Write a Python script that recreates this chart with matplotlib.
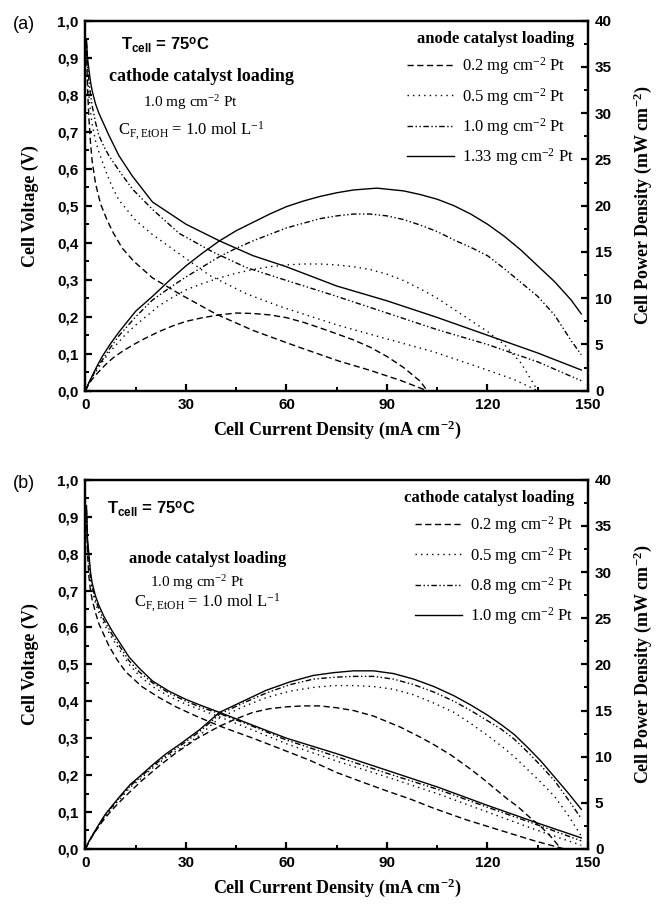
import matplotlib
matplotlib.use("Agg")
import matplotlib.pyplot as plt
from matplotlib.ticker import MultipleLocator, FuncFormatter

plt.rcParams['mathtext.fontset'] = 'custom'
plt.rcParams['mathtext.rm'] = 'Liberation Serif'
plt.rcParams['mathtext.it'] = 'Liberation Serif:italic'
plt.rcParams['mathtext.bf'] = 'Liberation Serif:bold'
plt.rcParams['mathtext.sf'] = 'Liberation Sans:bold'

# ---- panel (a): anode catalyst loading (cathode 1.0 mg cm-2 Pt) ----
a_labels = ['0.2 mg cm$^{-2}$ Pt', '0.5 mg cm$^{-2}$ Pt', '1.0 mg cm$^{-2}$ Pt', '1.33 mg cm$^{-2}$ Pt']

# voltage curves: current density (mA cm-2) and cell voltage (V)
a_v_i = [
    [0.3, 0.6, 1, 1.5, 2, 3, 4.5, 6.5, 8.4, 11, 14.4, 20, 28, 39, 50, 63, 75.7, 85, 94, 102],
    [0.3, 0.6, 1, 1.5, 2, 3, 4, 6, 8, 10, 15, 20, 28, 37, 48, 58, 75, 90, 104, 118, 128, 135],
    [0.3, 0.6, 1, 1.5, 2, 3, 4, 5.5, 7, 10, 14, 20, 28, 38, 48, 60, 75, 90, 105, 120, 135, 148],
    [0.3, 0.6, 1, 1.5, 2, 3, 4, 5.5, 7, 10, 14, 20, 30, 40, 50, 60, 75, 90, 105, 120, 135, 148],
]
a_v = [
    [0.92, 0.82, 0.74, 0.67, 0.62, 0.56, 0.505, 0.46, 0.425, 0.385, 0.35, 0.305, 0.262, 0.207, 0.163, 0.12, 0.08, 0.055, 0.028, 0.0],
    [0.93, 0.86, 0.80, 0.755, 0.72, 0.675, 0.645, 0.595, 0.55, 0.515, 0.46, 0.422, 0.37, 0.312, 0.262, 0.228, 0.178, 0.14, 0.105, 0.062, 0.03, 0.0],
    [0.94, 0.88, 0.84, 0.80, 0.77, 0.725, 0.69, 0.66, 0.635, 0.595, 0.545, 0.49, 0.425, 0.375, 0.333, 0.298, 0.255, 0.21, 0.165, 0.125, 0.078, 0.027],
    [0.95, 0.90, 0.87, 0.835, 0.81, 0.775, 0.75, 0.72, 0.69, 0.635, 0.58, 0.51, 0.45, 0.405, 0.365, 0.335, 0.283, 0.243, 0.198, 0.15, 0.102, 0.056],
]
# power density curves: current density (mA cm-2) and power (mW cm-2)
a_p_i = [
    [0, 1, 2, 3, 4.5, 6.5, 8.4, 11, 14.4, 18, 22, 26, 30, 35, 40, 45, 50, 55, 60, 65, 70, 75, 80, 85, 90, 95, 100, 102],
    [0, 1, 2, 3.5, 5, 7, 9, 12, 15, 18, 22, 26, 30, 35, 40, 45, 50, 55, 60, 65, 70, 75, 80, 85, 90, 95, 100, 105, 110, 115, 120, 125, 130, 135],
    [0, 1, 2, 3.5, 5, 7.5, 10, 15, 20, 25, 30, 35, 40, 45, 50, 55, 60, 65, 70, 75, 80, 85, 90, 95, 100, 105, 110, 115, 120, 125, 130, 135, 140, 145, 148],
    [0, 1, 2, 3.5, 5, 7.5, 10, 15, 20, 25, 30, 35, 40, 45, 50, 55, 60, 65, 70, 75, 80, 87, 95, 100, 105, 110, 115, 120, 125, 130, 135, 140, 145, 148],
]
a_p = [
    [0, 0.74, 1.24, 1.68, 2.27, 3.0, 3.6, 4.25, 5.0, 5.7, 6.4, 7.0, 7.5, 7.9, 8.2, 8.4, 8.35, 8.2, 7.9, 7.4, 6.8, 6.15, 5.5, 4.7, 3.7, 2.5, 1.0, 0],
    [0, 0.8, 1.45, 2.3, 3.1, 4.1, 4.9, 6.1, 7.1, 8.0, 9.2, 10.1, 10.9, 11.6, 12.2, 12.7, 13.1, 13.4, 13.6, 13.7, 13.7, 13.6, 13.4, 13.1, 12.6, 11.9, 11.0, 10.0, 8.8, 7.6, 6.4, 5.0, 3.0, 0],
    [0, 0.84, 1.54, 2.5, 3.3, 4.7, 5.95, 8.0, 9.8, 11.1, 12.3, 13.4, 14.5, 15.4, 16.2, 16.9, 17.6, 18.1, 18.6, 18.9, 19.1, 19.1, 18.9, 18.5, 17.9, 17.2, 16.3, 15.5, 14.6, 13.2, 11.7, 10.2, 8.2, 5.4, 3.9],
    [0, 0.87, 1.6, 2.7, 3.7, 5.1, 6.35, 8.6, 10.2, 11.9, 13.5, 14.9, 16.2, 17.3, 18.2, 19.1, 19.9, 20.5, 21.0, 21.4, 21.7, 21.9, 21.6, 21.2, 20.7, 20.0, 19.1, 18.0, 16.7, 15.2, 13.5, 11.8, 9.8, 8.3],
]

# ---- panel (b): cathode catalyst loading (anode 1.0 mg cm-2 Pt) ----
b_labels = ['0.2 mg cm$^{-2}$ Pt', '0.5 mg cm$^{-2}$ Pt', '0.8 mg cm$^{-2}$ Pt', '1.0 mg cm$^{-2}$ Pt']

b_v_i = [
    [0.3, 0.6, 1, 1.5, 2, 3, 4, 5, 7, 9.4, 12, 16.8, 22, 27, 33, 40, 50, 58, 67, 75, 83, 90, 97, 104, 114, 124, 134, 143],
    [0.3, 0.6, 1, 1.5, 2, 3, 4, 5.5, 8, 10.5, 13, 16, 20, 25, 30, 35, 40, 50, 60, 75, 90, 105, 120, 135, 148],
    [0.3, 0.6, 1, 1.5, 2, 3, 4, 5.5, 8, 10.5, 13, 16, 20, 25, 30, 35, 40, 50, 60, 75, 90, 105, 120, 135, 148],
    [0.3, 0.6, 1, 1.5, 2, 3, 4, 5.5, 8, 10.5, 13, 16, 20, 25, 30, 35, 40, 50, 60, 75, 90, 105, 120, 135, 148],
]
b_v = [
    [0.90, 0.80, 0.74, 0.70, 0.675, 0.64, 0.61, 0.59, 0.55, 0.513, 0.48, 0.44, 0.41, 0.385, 0.36, 0.333, 0.30, 0.272, 0.24, 0.207, 0.18, 0.157, 0.135, 0.11, 0.078, 0.05, 0.022, 0.0],
    [0.91, 0.82, 0.78, 0.73, 0.70, 0.665, 0.64, 0.61, 0.57, 0.535, 0.50, 0.47, 0.44, 0.413, 0.392, 0.375, 0.358, 0.322, 0.285, 0.238, 0.195, 0.15, 0.10, 0.05, 0.01],
    [0.92, 0.83, 0.79, 0.74, 0.71, 0.675, 0.65, 0.62, 0.58, 0.545, 0.51, 0.48, 0.45, 0.422, 0.40, 0.382, 0.367, 0.332, 0.295, 0.25, 0.205, 0.162, 0.113, 0.065, 0.022],
    [0.93, 0.84, 0.80, 0.75, 0.72, 0.685, 0.66, 0.63, 0.59, 0.555, 0.52, 0.49, 0.455, 0.427, 0.405, 0.387, 0.37, 0.335, 0.30, 0.258, 0.213, 0.168, 0.118, 0.07, 0.03],
]
b_p_i = [
    [0, 1, 2, 3, 5, 7, 9.4, 12, 16.8, 22, 27, 33, 40, 45, 50, 55, 60, 65, 70, 75, 80, 86, 94, 100, 104, 109, 114, 118, 122, 126, 129, 133, 136, 139, 142],
    [0, 1, 2, 3, 4.5, 6, 8, 10.5, 13.4, 16, 20, 24, 28, 34, 40, 47, 54, 61, 68, 74, 80, 86, 92, 98, 104, 110, 115, 120, 124, 128, 132, 136, 140, 144, 148],
    [0, 1, 2, 3, 4.5, 6, 8, 10.5, 13.4, 16, 20, 24, 28, 34, 40, 47, 54, 61, 68, 74, 80, 86, 92, 98, 104, 110, 115, 120, 124, 128, 132, 136, 140, 144, 148],
    [0, 1, 2, 3, 4.5, 6, 8, 10.5, 13.4, 16, 20, 24, 28, 34, 40, 47, 54, 61, 68, 74, 80, 86, 92, 98, 104, 110, 115, 120, 124, 128, 132, 136, 140, 144, 148],
]
b_p = [
    [0, 0.74, 1.35, 1.92, 2.95, 3.85, 4.8, 5.75, 7.4, 9.0, 10.4, 11.9, 13.3, 14.1, 14.8, 15.2, 15.4, 15.5, 15.5, 15.3, 15.0, 14.4, 13.2, 12.1, 11.3, 10.2, 8.9, 7.8, 6.6, 5.4, 4.6, 3.3, 2.4, 1.3, 0],
    [0, 0.78, 1.4, 1.98, 2.85, 3.6, 4.5, 5.5, 6.7, 7.45, 8.75, 9.9, 10.8, 12.3, 14.2, 15.4, 16.4, 17.1, 17.5, 17.7, 17.7, 17.6, 17.3, 16.7, 15.8, 14.8, 13.6, 12.3, 11.2, 10.0, 8.6, 7.2, 5.7, 3.7, 1.4],
    [0, 0.79, 1.42, 2.0, 2.9, 3.7, 4.6, 5.7, 6.85, 7.65, 8.95, 10.1, 11.1, 12.7, 14.6, 15.8, 16.9, 17.8, 18.4, 18.6, 18.7, 18.7, 18.4, 17.8, 17.0, 16.0, 15.0, 13.9, 13.0, 11.9, 10.5, 9.0, 7.4, 5.4, 3.3],
    [0, 0.8, 1.44, 2.05, 2.95, 3.8, 4.7, 5.8, 7.0, 7.8, 9.1, 10.3, 11.3, 12.9, 14.8, 16.0, 17.2, 18.1, 18.8, 19.1, 19.3, 19.3, 19.0, 18.4, 17.6, 16.6, 15.6, 14.5, 13.5, 12.4, 11.0, 9.5, 7.8, 6.1, 4.3],
]

styles = [(0, (4.5, 2.5)), (0, (1, 3)), (0, (4, 1.8, 1, 1.8, 1, 1.8)), '-']

fig = plt.figure(figsize=(6.56, 9.07), dpi=100)

serif = 'Liberation Serif'
sans = 'Liberation Sans'
comma = FuncFormatter(lambda v, p: ('%.1f' % v).replace('.', ','))


def make_panel(rect, vi, vv, pi, pp, labels, title, tag, notes):
    ax = fig.add_axes(rect)
    ax2 = ax.twinx()
    for k in range(4):
        ax.plot(vi[k], vv[k], color='k', lw=1.0, ls=styles[k], label=labels[k])
        ax2.plot(pi[k], pp[k], color='k', lw=1.0, ls=styles[k])
    ax.set_xlim(0, 150)
    ax.set_ylim(0, 1.0)
    ax2.set_ylim(0, 40)
    ax.xaxis.set_major_locator(MultipleLocator(30))
    ax.xaxis.set_minor_locator(MultipleLocator(15))
    ax.yaxis.set_major_locator(MultipleLocator(0.1))
    ax.yaxis.set_minor_locator(MultipleLocator(0.05))
    ax.yaxis.set_major_formatter(comma)
    ax2.yaxis.set_major_locator(MultipleLocator(5))
    ax2.yaxis.set_minor_locator(MultipleLocator(2.5))
    for a in (ax, ax2):
        for s in a.spines.values():
            s.set_linewidth(1.6)
        a.tick_params(which='major', direction='in', length=5, width=1.6, pad=5)
        a.tick_params(which='minor', direction='in', length=3, width=1.4)
    ax.tick_params(axis='x', which='major', pad=5)
    ax.tick_params(axis='y', which='both', right=False)
    ax.tick_params(axis='x', which='both', top=False)
    for t in ax.get_xticklabels() + ax.get_yticklabels() + ax2.get_yticklabels():
        t.set_fontfamily(sans)
        t.set_fontweight('bold')
        t.set_fontsize(11)
    ax.set_xlabel(r'Cell Current Density (mA cm$^{\mathbf{-2}}$)', fontfamily=serif,
                  fontweight='bold', fontsize=13, labelpad=5)
    ax.set_ylabel('Cell Voltage (V)', fontfamily=serif, fontweight='bold', fontsize=13, labelpad=13)
    ax2.set_ylabel(r'Cell Power Density (mW cm$^{\mathbf{-2}}$)', fontfamily=serif,
                   fontweight='bold', fontsize=13, labelpad=14)

    leg = ax.legend(loc='upper right', bbox_to_anchor=(0.985, 0.99), frameon=False,
                    prop={'family': serif, 'size': 12}, title=title,
                    title_fontproperties={'family': serif, 'weight': 'bold', 'size': 12},
                    alignment='right', handlelength=2.8, handletextpad=0.5,
                    labelspacing=0.5, borderaxespad=0)
    for h in leg.get_lines():
        h.set_linewidth(1.0)

    ax.text(-0.144, 0.99, tag, transform=ax.transAxes, fontfamily=sans, fontsize=13,
            ha='left', va='center')
    (tx, ty), (lx, ly, lsize), note_title, (n1x, n1y), (n2x, n2y) = notes
    ax.text(tx, ty, r'T$_{\mathsf{cell}}$ = 75$^{\mathsf{o}}$C', transform=ax.transAxes,
            fontfamily=sans, fontweight='bold', fontsize=12, ha='left', va='center')
    ax.text(lx, ly, note_title, transform=ax.transAxes, fontfamily=serif, fontweight='bold',
            fontsize=lsize, ha='center', va='center')
    ax.text(n1x, n1y, '1.0 mg cm$^{-2}$ Pt', transform=ax.transAxes, fontfamily=serif,
            fontsize=11, ha='center', va='center')
    ax.text(n2x, n2y, r'C$_{\mathrm{F,EtOH}}$ = 1.0 mol L$^{-1}$', transform=ax.transAxes,
            fontfamily=serif, fontsize=12, ha='center', va='center')
    return ax


make_panel([0.1303, 0.5692, 0.766, 0.408], a_v_i, a_v, a_p_i, a_p, a_labels,
           'anode catalyst loading', '(a)',
           [(0.07, 0.935), (0.23, 0.85, 13), 'cathode catalyst loading', (0.21, 0.778), (0.21, 0.702)])
make_panel([0.1303, 0.0640, 0.766, 0.4070], b_v_i, b_v, b_p_i, b_p, b_labels,
           'cathode catalyst loading', '(b)',
           [(0.042, 0.92), (0.244, 0.785, 12), 'anode catalyst loading', (0.223, 0.722), (0.242, 0.668)])

fig.savefig('out.png', dpi=100)
